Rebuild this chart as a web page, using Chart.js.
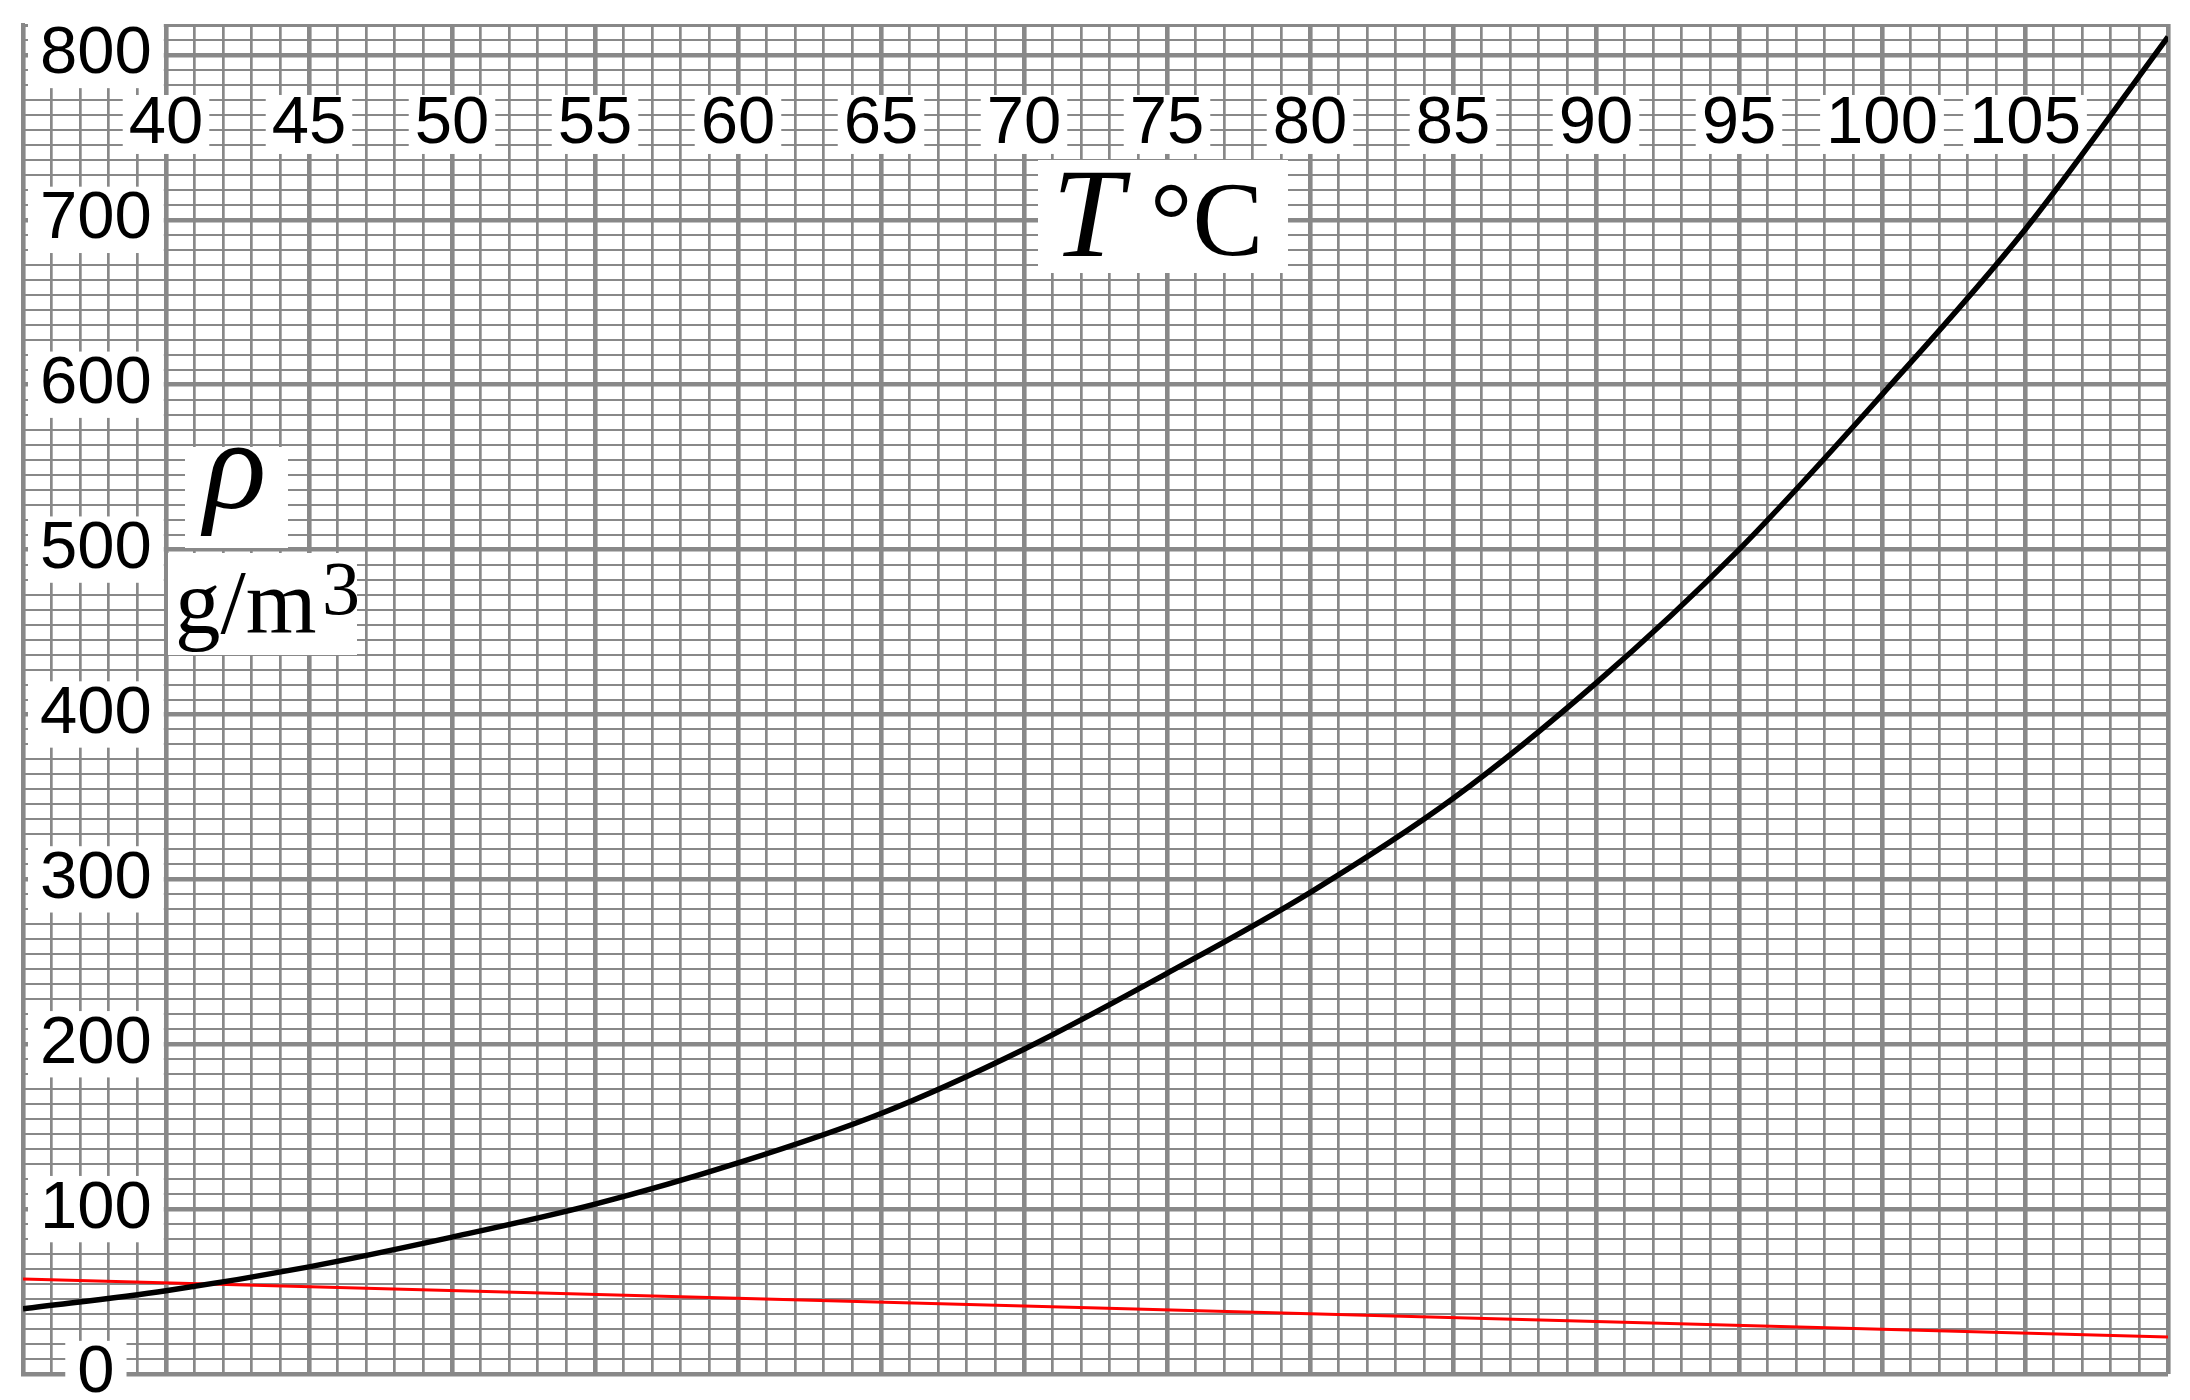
<!DOCTYPE html>
<html>
<head>
<meta charset="utf-8">
<script src="https://cdn.jsdelivr.net/npm/chart.js@4.4.1/dist/chart.umd.min.js"></script>
<style>
html, body { margin: 0; padding: 0; background: #fff; }
#wrap { position: relative; width: 2190px; height: 1400px; overflow: hidden; }
#c { position: absolute; left: 0; top: 0; }
.box { position: absolute; background: #fff; }
.t { position: absolute; font-family: 'Liberation Serif', 'Times New Roman', serif; line-height: 1; white-space: nowrap; color: #000; }
</style>
</head>
<body>
<div id="wrap">
  <canvas id="c" width="2190" height="1400"></canvas>
  <div class="box" style="left:1038px;top:160px;width:250px;height:113px"></div>
  <span class="t" style="left:1052px;top:149px;font-size:128px;font-style:italic">T</span>
  <span class="t" style="left:1150px;top:167px;font-size:106px">°C</span>
  <div class="box" style="left:185px;top:447px;width:103px;height:101px"></div>
  <span class="t" style="left:204px;top:399px;font-size:130px;font-style:italic">ρ</span>
  <div class="box" style="left:168px;top:553px;width:189px;height:102px"></div>
  <span class="t" style="left:175px;top:557px;font-size:91px">g/m</span>
  <span class="t" style="left:322px;top:550px;font-size:76px">3</span>
</div>
<script>
// ---- data ----
const temperatures = [35, 40, 45, 50, 55, 60, 65, 70, 75, 80, 85, 90, 95, 100, 105, 110];
const vaporDensity = [39.5, 50.5, 65, 83, 103, 128, 158, 197, 243, 292, 349, 419, 500, 594, 694, 811];
const lineTemperatures = [35, 70, 110];
const lineDensity = [57.6, 41.2, 22.4];
const xTickLabels = [40, 45, 50, 55, 60, 65, 70, 75, 80, 85, 90, 95, 100, 105];
const yTickLabels = [0, 100, 200, 300, 400, 500, 600, 700, 800];
const xMin = 35, xMax = 110;
const yMinorPerMajor = 11;          // the paper has 11 small divisions per 100
const yMax = 800 + 2 * 100 / yMinorPerMajor;

const GRID = '#888888';
const labelFont = { family: "'Liberation Sans', Arial, sans-serif", size: 67 };

const toPoints = (xs, ys) => xs.map((x, i) => ({ x: x, y: ys[i] }));

new Chart(document.getElementById('c'), {
  type: 'line',
  data: {
    datasets: [
      {
        data: toPoints(temperatures, vaporDensity),
        borderColor: '#000000',
        borderWidth: 5.5,
        pointRadius: 0,
        cubicInterpolationMode: 'monotone',
        fill: false
      },
      {
        data: toPoints(lineTemperatures, lineDensity),
        borderColor: '#ff0000',
        borderWidth: 3,
        pointRadius: 0,
        tension: 0,
        fill: false
      }
    ]
  },
  options: {
    responsive: false,
    animation: false,
    devicePixelRatio: 1,
    layout: { padding: { left: 23, top: 25, right: 22, bottom: 26 } },
    plugins: { legend: { display: false }, tooltip: { enabled: false } },
    scales: {
      x: {
        type: 'linear',
        position: 'top',
        min: xMin,
        max: xMax,
        afterFit: (s) => { s.height = 0; s.paddingLeft = 0; s.paddingRight = 0; s.paddingTop = 0; s.paddingBottom = 0; },
        grid: {
          color: GRID,
          drawTicks: false,
          lineWidth: (ctx) => (ctx.tick && ctx.tick.value % 5 === 0) ? 4.6 : 2.7
        },
        border: { display: true, color: GRID, width: 3 },
        ticks: {
          stepSize: 1,
          autoSkip: false,
          maxRotation: 0,
          minRotation: 0,
          mirror: true,
          padding: 70,
          color: '#000',
          font: { family: labelFont.family, size: labelFont.size, lineHeight: 0.88 },
          showLabelBackdrop: true,
          backdropColor: (ctx) => (ctx.tick && xTickLabels.includes(ctx.tick.value)) ? '#ffffff' : 'rgba(0,0,0,0)',
          backdropPadding: { left: 6, right: 6, top: 0, bottom: 0 },
          callback: (v) => xTickLabels.includes(v) ? String(v) : ''
        }
      },
      y: {
        type: 'linear',
        position: 'left',
        min: 0,
        max: yMax,
        afterBuildTicks: (s) => {
          const t = [];
          const n = Math.round(yMax / (100 / yMinorPerMajor));
          for (let i = 0; i <= n; i++) t.push({ value: i * 100 / yMinorPerMajor });
          s.ticks = t;
        },
        afterFit: (s) => { s.width = 0; s.paddingLeft = 0; s.paddingRight = 0; s.paddingTop = 0; s.paddingBottom = 0; },
        grid: {
          color: GRID,
          drawTicks: false,
          lineWidth: (ctx) => (ctx.tick && yTickLabels.includes(ctx.tick.value)) ? 4.6 : 2
        },
        border: { display: true, color: GRID, width: 4 },
        ticks: {
          autoSkip: false,
          mirror: true,
          crossAlign: 'center',
          padding: 17,
          color: '#000',
          font: { family: labelFont.family, size: labelFont.size, lineHeight: 0.99 },
          showLabelBackdrop: true,
          backdropColor: (ctx) => (ctx.tick && yTickLabels.includes(ctx.tick.value)) ? '#ffffff' : 'rgba(0,0,0,0)',
          backdropPadding: { left: 12, right: 12, top: 0, bottom: 0 },
          callback: (v) => yTickLabels.includes(v) ? String(v) : ''
        }
      }
    }
  }
});
</script>
</body>
</html>
